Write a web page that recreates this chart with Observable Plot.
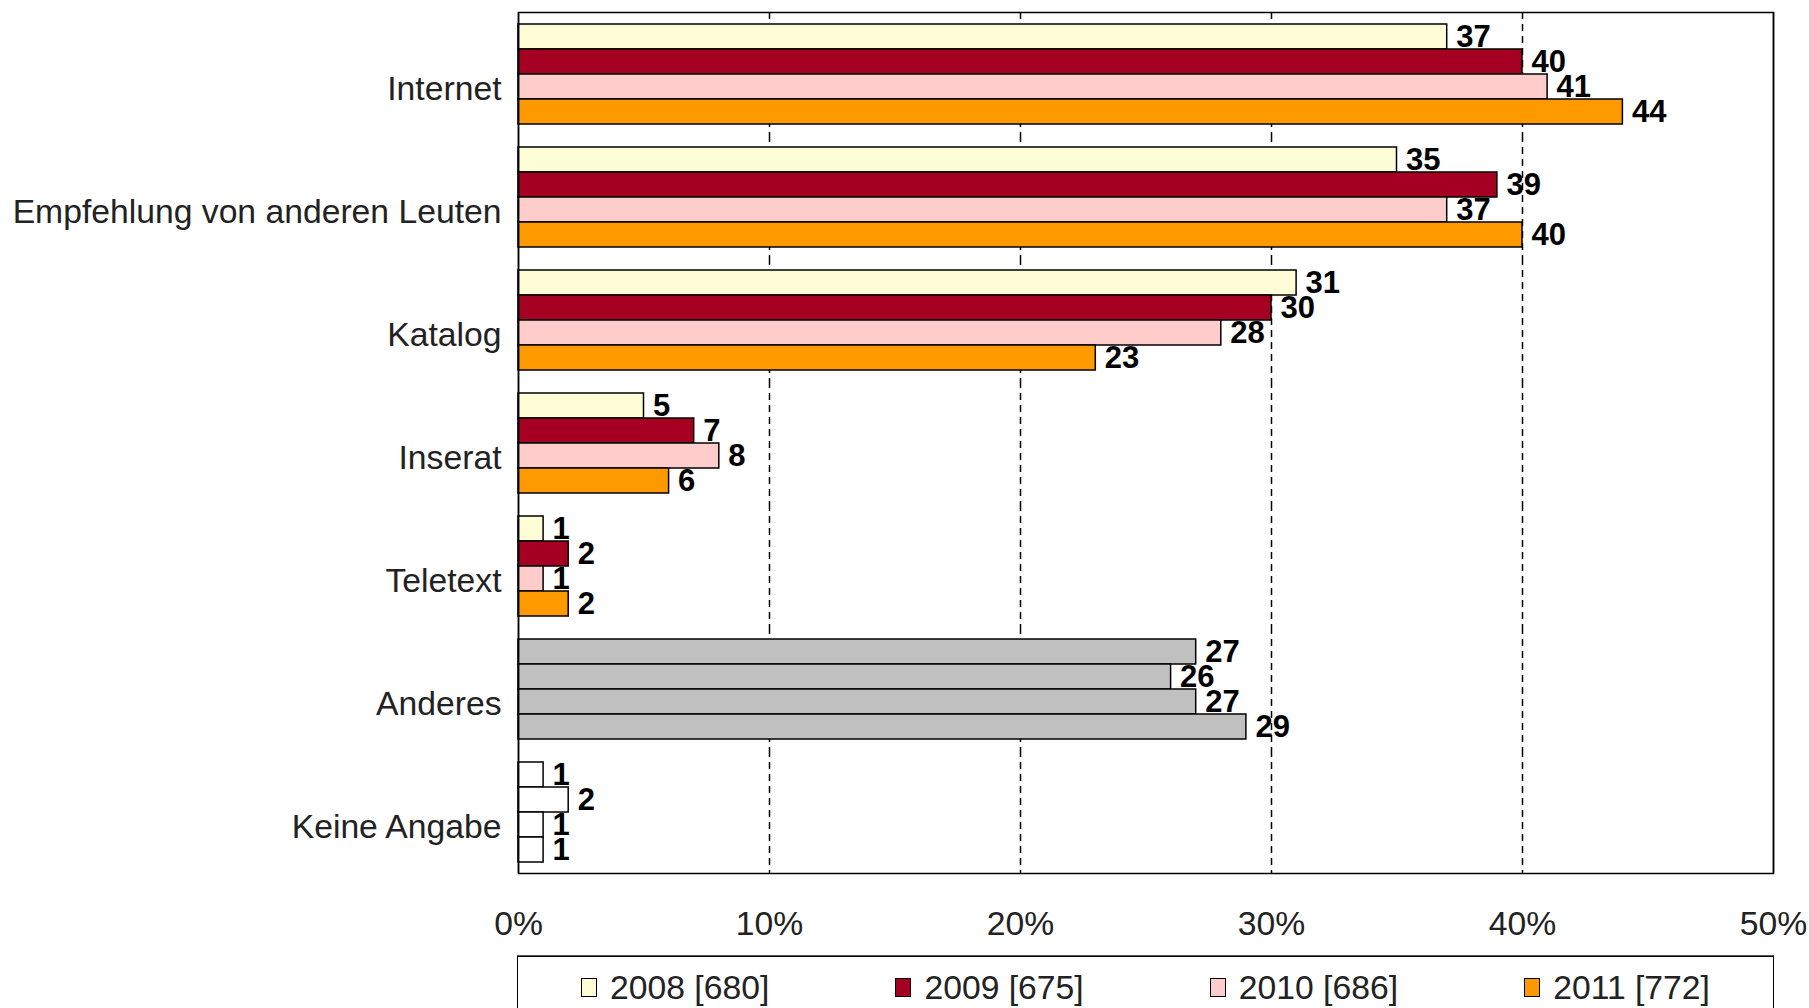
<!DOCTYPE html>
<html>
<head>
<meta charset="utf-8">
<script src="https://cdn.jsdelivr.net/npm/d3@7"></script>
<script src="https://cdn.jsdelivr.net/npm/@observablehq/plot@0.6"></script>
<style>
  html, body { margin: 0; padding: 0; background: #fff; overflow: hidden; }
  body { width: 1809px; height: 1008px; position: relative; font-family: "Liberation Sans", Arial, sans-serif; }
  #chart { position: absolute; left: 0; top: 0; }
  #legend {
    position: absolute; left: 517px; top: 956px; width: 1257px; height: 80px;
    border: 1.5px solid #000; box-shadow: 0 -1px 0 #555; box-sizing: border-box;
    display: flex; justify-content: space-around; align-items: flex-start;
    padding-top: 11px; font-size: 33.7px; color: #222;
  }
  .item { display: flex; align-items: center; gap: 13px; white-space: nowrap; }
  .sw { width: 16px; height: 19px; border: 1.5px solid #000; box-sizing: border-box; }
</style>
</head>
<body>
<div id="chart"></div>
<div id="legend"></div>
<script>
const categories = ["Internet", "Empfehlung von anderen Leuten", "Katalog", "Inserat", "Teletext", "Anderes", "Keine Angabe"];
const years = ["2008", "2009", "2010", "2011"];
const values2008 = [37, 35, 31, 5, 1, 27, 1];
const values2009 = [40, 39, 30, 7, 2, 26, 2];
const values2010 = [41, 37, 28, 8, 1, 27, 1];
const values2011 = [44, 40, 23, 6, 2, 29, 1];
const legendLabels = ["2008 [680]", "2009 [675]", "2010 [686]", "2011 [772]"];
const yearColors = ["#FFFDD6", "#A50021", "#FFCCCC", "#FF9900"];
const otherColor = "#C0C0C0";
const noAnswerColor = "#FFFFFF";
const xTicks = [0, 10, 20, 30, 40, 50];
const gridTicks = [10, 20, 30, 40];

const seriesValues = [values2008, values2009, values2010, values2011];
const rows = [];
categories.forEach((cat, ci) => {
  years.forEach((yr, yi) => {
    const fill = cat === "Anderes" ? otherColor : cat === "Keine Angabe" ? noAnswerColor : yearColors[yi];
    rows.push({cat, year: yr, value: seriesValues[yi][ci], fill});
  });
});

const chart = Plot.plot({
  width: 1809,
  height: 950,
  marginLeft: 518,
  marginRight: 36,
  marginTop: 12,
  marginBottom: 77,
  style: {fontFamily: "'Liberation Sans', Arial, sans-serif", color: "#000", background: "#fff"},
  x: {domain: [0, 50]},
  y: {domain: years, paddingInner: 0, paddingOuter: 0.4, axis: null},
  fy: {domain: categories, padding: 0},
  color: {type: "identity"},
  marks: [
    Plot.ruleX(gridTicks, {stroke: "#000", strokeWidth: 1.5, strokeDasharray: "7,5"}),
    Plot.barX(rows, {x: "value", y: "year", fy: "cat", fill: "fill", stroke: "#000", strokeWidth: 1.5}),
    Plot.text(rows, {x: "value", y: "year", fy: "cat", text: d => String(d.value), dx: 9, textAnchor: "start", fontWeight: "bold", fontSize: 31, fill: "#000"}),
    Plot.ruleX([0, 50], {stroke: "#000", strokeWidth: 1.5}),
    Plot.frame({facet: "super", stroke: "#000", strokeWidth: 1.5}),
    Plot.axisX({ticks: xTicks, tickFormat: d => d + "%", tickSize: 0, tickPadding: 38, fontSize: 33.7, label: null, fill: "#222"}),
    Plot.axisFy({anchor: "left", tickSize: 0, tickPadding: 17, fontSize: 33.7, label: null, dy: 15, fill: "#222"})
  ]
});
document.getElementById("chart").append(chart);

const legend = document.getElementById("legend");
legendLabels.forEach((lab, i) => {
  const item = document.createElement("div");
  item.className = "item";
  const sw = document.createElement("div");
  sw.className = "sw";
  sw.style.background = yearColors[i];
  const t = document.createElement("span");
  t.textContent = lab;
  item.append(sw, t);
  legend.append(item);
});
</script>
</body>
</html>
